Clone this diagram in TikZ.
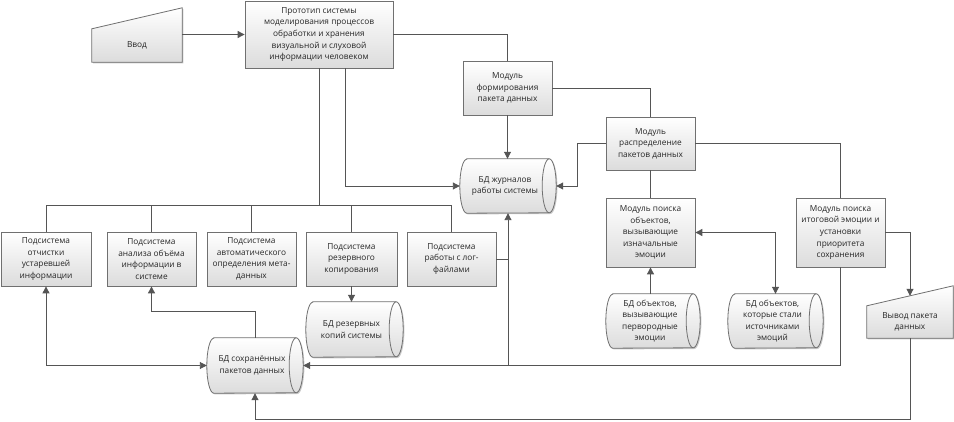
\documentclass[tikz,border=0pt]{standalone}
\usepackage{fontspec}
\setmainfont{Open Sans}
\usetikzlibrary{arrows.meta,shadows,calc}
\definecolor{linec}{HTML}{555555}
\definecolor{bordc}{HTML}{707070}
\definecolor{fillb}{HTML}{DCDCDC}
\tikzset{
  shadestyle/.style={top color=white,bottom color=fillb,shading angle=0},
  boxbase/.style={draw=bordc,line width=0.8pt,shadestyle,
    drop shadow={shadow xshift=1.2pt,shadow yshift=-1.2pt,opacity=0.35,fill=black!60}},
  txt/.style={font=\fontsize{8.3}{11.6}\selectfont,align=center,text=black!85},
  blk/.style={boxbase,txt,rectangle,inner sep=0pt},
  dbs/.style={txt,rectangle,inner sep=0pt},
  manin/.style={txt,rectangle,inner sep=0pt},
  conn/.style={draw=linec,line width=0.9pt},
  arr/.style={conn,-{Triangle[length=7pt,width=7pt]}},
  darr/.style={conn,{Triangle[length=7pt,width=7pt]}-{Triangle[length=7pt,width=7pt]}}
}
% #1 node name, #2 half height
\newcommand\dbcyl[2]{%
  \path[boxbase] ($(#1.north west)+(7,0)$) -- ($(#1.north east)+(-7,0)$)
     arc[start angle=90,end angle=-90,x radius=7pt,y radius=#2pt]
     -- ($(#1.south west)+(7,0)$)
     arc[start angle=270,end angle=90,x radius=7pt,y radius=#2pt] -- cycle;
  \draw[bordc,line width=0.8pt] ($(#1.north east)+(-7,0)$)
     arc[start angle=90,end angle=270,x radius=7pt,y radius=#2pt];
}
\begin{document}
\begin{tikzpicture}[x=1pt,y=-1pt]
\useasboundingbox (0,0) rectangle (954,422);
\fill[white] (0,0) rectangle (954,422);

% manual input "Ввод"
\node[manin,minimum width=90pt,minimum height=33pt] (vvod) at (137,45.5) {};
\path[boxbase] (vvod.south west) -- (vvod.north west) -- ($(vvod.north east)+(0,-21)$) -- (vvod.south east) -- cycle;
\node[txt] at (vvod.center) {Ввод};

\node[blk,minimum width=148pt,minimum height=67pt] (proto) at (319,34.5)
  {Прототип системы\\моделирования процессов\\обработки и хранения\\визуальной и слуховой\\информации человеком};

\node[blk,minimum width=89pt,minimum height=54pt] (mform) at (507.5,88)
  {Модуль\\формирования\\пакета данных};
\node[blk,minimum width=89pt,minimum height=53pt] (mdist) at (650.5,143.5)
  {Модуль\\распределение\\пакетов данных};

\node[dbs,minimum width=96pt,minimum height=54pt] (bdj) at (508,186) {};
\dbcyl{bdj}{27}
\node[txt] at ([xshift=-3pt]bdj.center) {БД журналов\\работы системы};

\node[blk,minimum width=90pt,minimum height=54pt] (s1) at (46,259)
  {Подсистема\\отчистки\\устаревшей\\информации};
\node[blk,minimum width=89pt,minimum height=54pt] (s2) at (151.5,259)
  {Подсистема\\анализа объёма\\информации в\\системе};
\node[blk,minimum width=89pt,minimum height=54pt] (s3) at (251.5,259)
  {Подсистема\\автоматического\\определения мета-\\данных};
\node[blk,minimum width=91pt,minimum height=54pt] (s4) at (351.5,259)
  {Подсистема\\резервного\\копирования};
\node[blk,minimum width=89pt,minimum height=54pt] (s5) at (451.5,259)
  {Подсистема\\работы с лог-\\файлами};

\node[dbs,minimum width=97pt,minimum height=55pt] (bdr) at (354.5,329.5) {};
\dbcyl{bdr}{27.5}
\node[txt] at ([xshift=-3pt]bdr.center) {БД резервных\\копий системы};

\node[dbs,minimum width=96pt,minimum height=55pt] (bds) at (255,365.5) {};
\dbcyl{bds}{27.5}
\node[txt] at ([xshift=-3pt]bds.center) {БД сохранённых\\пакетов данных};

\node[blk,minimum width=89pt,minimum height=69pt] (mobj) at (650.5,232.5)
  {Модуль поиска\\объектов,\\вызывающие\\изначальные\\эмоции};
\node[blk,minimum width=89pt,minimum height=69pt] (mfin) at (840.5,232.5)
  {Модуль поиска\\итоговой эмоции и\\установки\\приоритета\\сохранения};

\node[dbs,minimum width=94pt,minimum height=54pt] (bdo1) at (653,321) {};
\dbcyl{bdo1}{27}
\node[txt] at ([xshift=-3pt]bdo1.center) {БД объектов,\\вызывающие\\первородные\\эмоции};

\node[dbs,minimum width=95pt,minimum height=54pt] (bdo2) at (775.5,321) {};
\dbcyl{bdo2}{27}
\node[txt] at ([xshift=-3pt]bdo2.center) {БД объектов,\\которые стали\\источниками\\эмоций};

% manual output "Вывод пакета данных"
\node[manin,minimum width=86pt,minimum height=32pt] (vyvod) at (910,322) {};
\path[boxbase] (vyvod.south west) -- (vyvod.north west) -- ($(vyvod.north east)+(0,-20)$) -- (vyvod.south east) -- cycle;
\node[txt] at (vyvod.center) {Вывод пакета\\данных};
\coordinate (vtop) at ($(vyvod.north)+(0,-10)$);

% connectors
\draw[arr] (vvod.east |- proto.west) -- (proto.west);
\draw[conn] (proto.east) -| (mform.north);
\draw[conn] (mform.east) -| (mdist.north);
\draw[arr] (mform.south) -- (mform.south |- bdj.north);
\draw[arr] (mdist.west) -- ++(-28,0) |- (bdj.east);
\draw[arr] ([xshift=26pt]proto.south) |- (bdj.west);

\coordinate (bus) at (319,205);
\draw[conn] (proto.south) -- (bus);
\draw[conn] (s1.north) |- (s5.north |- bus) -- (s5.north);
\draw[conn] (s2.north) -- (s2.north |- bus);
\draw[conn] (s3.north) -- (s3.north |- bus);
\draw[conn] (s4.north) -- (s4.north |- bus);

\draw[arr] (s4.south) -- (s4.south |- bdr.north);
\draw[darr] (s1.south) |- (bds.west);
\draw[arr] (bds.north) -- ++(0,-26) -| (s2.south);

\draw[conn] (mdist.south) -- (mobj.north);
\draw[conn] (mdist.east) -| (mfin.north);
\draw[arr] (mobj.south |- bdo1.north) -- (mobj.south);
\draw[darr] (mobj.east) -| (bdo2.north);
\draw[arr] (mfin.east) -| (vtop);

\draw[arr] (mfin.south) |- (bds.east);
\draw[arr] (bdj.south |- bds.east) -- (bdj.south);
\draw[conn] (s5.east) -- (s5.east -| bdj.south);
\draw[arr] (vyvod.south) -- ++(0,81) -| (bds.south);
\end{tikzpicture}
\end{document}
